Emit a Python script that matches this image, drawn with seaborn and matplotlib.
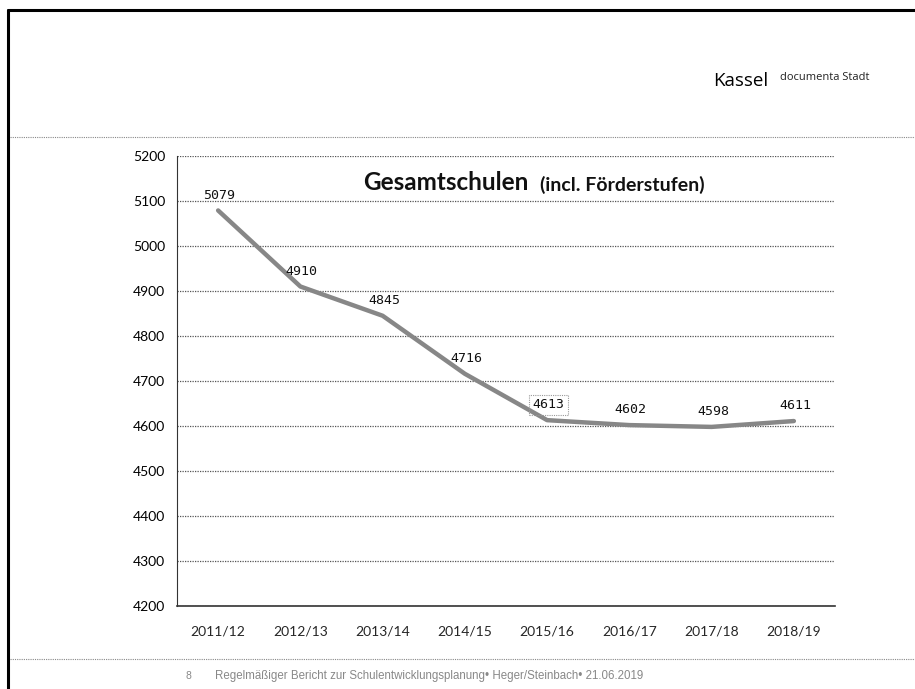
import pandas as pd
import matplotlib.pyplot as plt
import seaborn as sns
from matplotlib.lines import Line2D
from matplotlib.ticker import MultipleLocator, FixedLocator

# Gesamtschulen (incl. Förderstufen), Schülerzahlen Kassel
YEARS = ["2011/12", "2012/13", "2013/14", "2014/15",
         "2015/16", "2016/17", "2017/18", "2018/19"]
STUDENTS = [5079, 4910, 4845, 4716, 4613, 4602, 4598, 4611]
BOXED_LABEL = "2015/16"

FOOTER = "Regelmäßiger Bericht zur Schulentwicklungsplanung• Heger/Steinbach• 21.06.2019"


def style_axes(ax):
    """Gridlines, spines and ticks in the style of the Excel chart."""
    ax.set(xlabel="", ylabel="", ylim=(4200, 5200), xlim=(-0.5, len(YEARS) - 0.5))
    ax.yaxis.set_major_locator(MultipleLocator(100))
    ax.grid(axis="y", color="#555555", linestyle=(0, (1, 1)), linewidth=0.9)
    ax.grid(axis="x", visible=False)
    for side in ["top", "right"]:
        ax.spines[side].set_visible(False)
    ax.spines["left"].set_linestyle((0, (1, 1)))
    ax.spines["left"].set_color("#333333")
    ax.spines["bottom"].set_color("#333333")
    ax.spines["bottom"].set_linewidth(1.2)
    ax.tick_params(axis="y", direction="inout", length=7, width=0.8,
                   colors="#333333", labelcolor="black", labelsize=10, pad=5)
    # category labels sit between tick marks
    ax.tick_params(axis="x", which="major", length=0, labelsize=10, pad=14)
    ax.xaxis.set_minor_locator(FixedLocator([i - 0.5 for i in range(len(YEARS) + 1)]))
    ax.tick_params(axis="x", which="minor", direction="in", length=4, width=0.8,
                   colors="#333333")
    for lab in ax.get_xticklabels() + ax.get_yticklabels():
        lab.set_family(["Lato", "DejaVu Sans"])


def add_labels(ax):
    for i, (year, val) in enumerate(zip(YEARS, STUDENTS)):
        box = None
        if year == BOXED_LABEL:
            box = dict(boxstyle="square,pad=0.25", fc="none", ec="#999999",
                       linestyle=(0, (1, 1)), linewidth=0.8)
        ax.annotate(str(val), xy=(i, val), xytext=(1, 11), textcoords="offset points",
                    ha="center", va="center", fontsize=9.5, color="#111111",
                    family=["DejaVu Sans Mono", "DejaVu Sans"], bbox=box)


def add_page(fig):
    """Slide decoration: border, separators, header and footer."""
    W, H = 915, 689

    def fx(px):
        return px / W

    def fy(py):
        return 1 - py / H

    fig.add_artist(Line2D([fx(8), fx(8)], [fy(10), 0], color="black", lw=2.2))
    fig.add_artist(Line2D([fx(8), 1], [fy(10), fy(10)], color="black", lw=2.2))
    for y in (137, 659):
        fig.add_artist(Line2D([fx(10), 1], [fy(y), fy(y)], color="#888888",
                              lw=0.8, linestyle=(0, (1, 1))))
    fig.text(fx(713), fy(81), "Kassel", fontsize=13.5, color="black",
             family=["Open Sans", "DejaVu Sans"], va="center", ha="left")
    fig.text(fx(780), fy(77), "documenta Stadt", fontsize=8, color="#222222",
             family=["Open Sans", "DejaVu Sans"], va="center", ha="left")
    fig.text(fx(186), fy(676), "8", fontsize=7.5, color="#888888",
             family=["Liberation Sans Narrow", "Liberation Sans"], va="center")
    fig.text(fx(215), fy(676), FOOTER, fontsize=8.3, color="#888888",
             family=["Liberation Sans Narrow", "Liberation Sans"], va="center")
    fig.text(fx(363), fy(183), "Gesamtschulen", fontsize=17.5, color="#111111",
             family=["Lato", "DejaVu Sans"], fontweight="bold", va="center")
    fig.text(fx(540), fy(185), "(incl. Förderstufen)", fontsize=14, color="#111111",
             family=["Lato", "DejaVu Sans"], fontweight="bold", va="center")


def main():
    df = pd.DataFrame({"year": YEARS, "students": STUDENTS})
    sns.set_style("white")
    fig = plt.figure(figsize=(9.15, 6.89), dpi=100)
    ax = fig.add_axes([177 / 915, 1 - 606 / 689, 658 / 915, 450 / 689])
    sns.lineplot(data=df, x="year", y="students", ax=ax, color="#878787",
                 linewidth=3.2, solid_capstyle="round")
    style_axes(ax)
    add_labels(ax)
    add_page(fig)
    fig.savefig("out.png", dpi=100, facecolor="white")


if __name__ == "__main__":
    main()
